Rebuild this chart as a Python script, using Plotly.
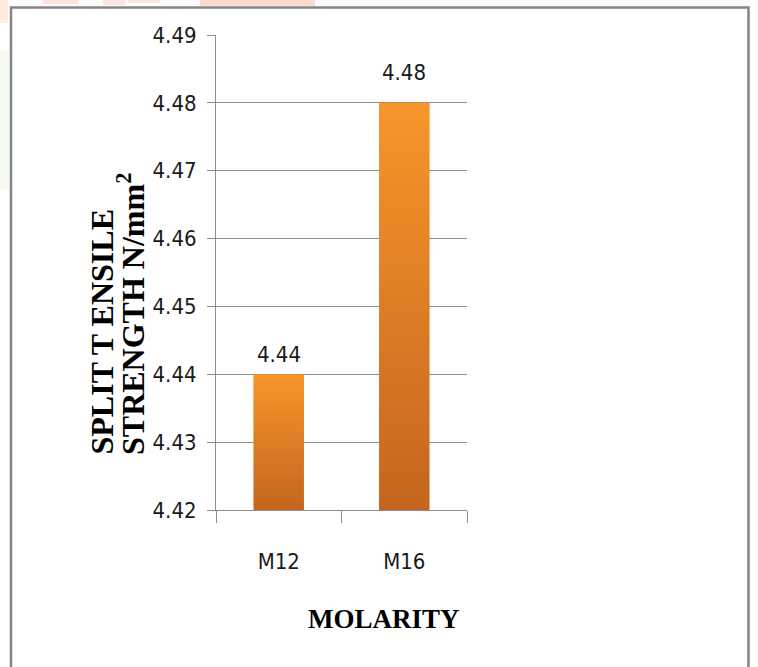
import plotly.graph_objects as go

# Split tensile strength by molarity
categories = ["M12", "M16"]
strength = [4.44, 4.48]
y_ticks = [4.42, 4.43, 4.44, 4.45, 4.46, 4.47, 4.48, 4.49]
y_range = [4.42, 4.49]

# styling
W, H = 758, 667
L, R, T, B = 216, 291, 35, 157
BAR_W = 0.4
GRID = "#8c8c8c"
TICK_FONT = dict(family="DejaVu Sans Condensed, sans-serif", size=22, color="#1a1a1a")
TITLE_FONT = "Liberation Serif, Times New Roman, serif"
label_lift = [5, 16]  # px offset of each value label above its bar

plot_w = W - L - R
plot_h = H - T - B


def px_x(p):
    return (p - L) / plot_w


def px_y(p):
    return (H - B - p) / plot_h


fig = go.Figure()

# base bars (give the category axis its bars)
fig.add_trace(go.Bar(
    x=categories, y=strength, width=BAR_W,
    marker=dict(color="#E07C25", line=dict(width=0)),
    hoverinfo="skip", showlegend=False,
))

# gradient fill painted over each bar
for i, v in enumerate(strength):
    x0, x1 = i - BAR_W / 2, i + BAR_W / 2
    fig.add_trace(go.Scatter(
        x=[x0, x1, x1, x0, x0],
        y=[y_range[0], y_range[0], v, v, y_range[0]],
        xaxis="x2", mode="lines", fill="toself",
        line=dict(width=0),
        fillgradient=dict(type="vertical",
                          colorscale=[[0, "#C4651F"], [1, "#F8952B"]]),
        hoverinfo="skip", showlegend=False,
    ))

# value labels
for i, (c, v) in enumerate(zip(categories, strength)):
    fig.add_annotation(x=c, y=v, text=f"{v:.2f}", showarrow=False,
                       yanchor="bottom", yshift=label_lift[i], font=TICK_FONT)

# rotated y-axis title, two lines starting at a common baseline
fig.add_annotation(xref="paper", yref="paper", x=px_x(101), y=px_y(457),
                   text="<b>SPLIT T ENSILE</b>", textangle=-90, showarrow=False,
                   xanchor="center", yanchor="bottom",
                   font=dict(family=TITLE_FONT, size=32, color="#000"))
fig.add_annotation(xref="paper", yref="paper", x=px_x(131), y=px_y(457),
                   text="<b>STRENGTH N/mm<sup>2</sup></b>", textangle=-90, showarrow=False,
                   xanchor="center", yanchor="bottom",
                   font=dict(family=TITLE_FONT, size=32, color="#000"))

# x-axis title
fig.add_annotation(xref="paper", yref="paper", x=px_x(384), y=px_y(619),
                   text="<b>MOLARITY</b>", showarrow=False,
                   xanchor="center", yanchor="middle",
                   font=dict(family=TITLE_FONT, size=27, color="#000"))

shapes = []
# faint background tints along the top and left edges
tints = [
    (200, 315, 0, 6, "#FFDAD3"),
    (43, 78, 0, 4, "#FFE2DC"),
    (103, 125, 0, 5, "#FFE5DF"),
    (128, 160, 0, 3, "#FFE8E2"),
    (0, 8, 0, 23, "#FFEADF"),
    (0, 9, 50, 190, "#F5FBEE"),
]
for a, b, c, d, col in tints:
    shapes.append(dict(type="rect", xref="paper", yref="paper",
                       x0=px_x(a), x1=px_x(b), y0=px_y(d), y1=px_y(c),
                       fillcolor=col, line=dict(width=0), layer="below"))
# frame around the chart
shapes.append(dict(type="rect", xref="paper", yref="paper",
                   x0=px_x(11), x1=px_x(748.5), y0=px_y(690), y1=px_y(7.5),
                   line=dict(color="#858585", width=2.5), fillcolor="rgba(0,0,0,0)",
                   layer="below"))

fig.update_layout(
    width=W, height=H,
    margin=dict(l=L, r=R, t=T, b=B, pad=0),
    paper_bgcolor="white", plot_bgcolor="white",
    bargap=0.6, showlegend=False,
    shapes=shapes,
    xaxis=dict(
        type="category", range=[-0.5, 1.5],
        showline=True, linecolor=GRID, linewidth=1,
        ticks="outside", tickson="boundaries", ticklen=12,
        tickcolor=GRID, tickwidth=1,
        tickfont=TICK_FONT, ticklabelstandoff=32,
        showgrid=False, zeroline=False,
    ),
    xaxis2=dict(overlaying="x", anchor="y", range=[-0.5, 1.5],
                visible=False, fixedrange=True),
    yaxis=dict(
        range=y_range, tickvals=y_ticks,
        ticktext=[f"{t:.2f}" for t in y_ticks],
        showline=True, linecolor=GRID, linewidth=1,
        ticks="outside", ticklen=8, tickcolor=GRID, tickwidth=1,
        showgrid=True, gridcolor=GRID, gridwidth=1,
        zeroline=False, tickfont=TICK_FONT, ticklabelstandoff=6,
    ),
)

fig.write_html("out.html")
